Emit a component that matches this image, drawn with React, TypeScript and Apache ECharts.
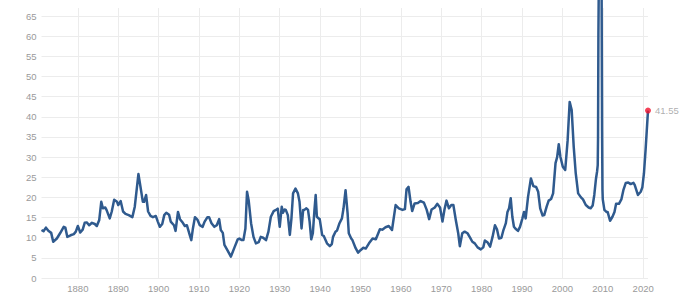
import React, { useEffect, useRef } from "react";
import * as echarts from "echarts";

// S&P 500 price / earnings ratio
const years = [
  1871.0, 1871.5, 1872.1, 1872.7, 1873.4, 1873.9, 1874.8, 1875.6, 1876.5, 1876.9,
  1877.4, 1878.2, 1879.0, 1879.5, 1880.0, 1880.6, 1881.2, 1881.7, 1882.2, 1882.8,
  1883.5, 1884.2, 1884.7, 1885.3, 1885.8, 1886.2, 1886.8, 1887.1, 1887.9, 1888.4,
  1889.0, 1889.7, 1890.0, 1890.6, 1891.2, 1891.8, 1892.6, 1893.5, 1894.1, 1895.0,
  1895.5, 1896.1, 1896.4, 1896.9, 1897.4, 1898.0, 1898.6, 1899.3, 1899.8, 1900.3,
  1900.9, 1901.4, 1901.9, 1902.6, 1903.0, 1903.8, 1904.2, 1904.8, 1905.3, 1906.0,
  1906.5, 1907.0, 1907.7, 1908.1, 1908.5, 1909.0, 1909.6, 1910.2, 1910.9, 1911.4,
  1912.1, 1912.5, 1913.1, 1913.8, 1914.4, 1915.0, 1915.4, 1915.9, 1916.3, 1917.1,
  1917.9, 1918.8, 1919.6, 1920.0, 1920.6, 1921.0, 1921.5, 1921.9, 1922.3, 1922.9,
  1923.5, 1924.1, 1924.8, 1925.3, 1925.9, 1926.6, 1927.2, 1927.8, 1928.5, 1929.2,
  1929.5, 1930.0, 1930.5, 1930.8, 1931.2, 1931.5, 1932.0, 1932.5, 1932.9, 1933.3,
  1933.9, 1934.5, 1934.9, 1935.4, 1935.8, 1936.1, 1936.6, 1937.0, 1937.4, 1937.8,
  1938.2, 1938.6, 1938.9, 1939.2, 1939.6, 1939.9, 1940.5, 1940.9, 1941.7, 1942.4,
  1942.9, 1943.2, 1943.8, 1944.2, 1944.8, 1945.4, 1945.8, 1946.3, 1946.8, 1947.1,
  1947.7, 1948.0, 1948.8, 1949.4, 1950.0, 1950.7, 1951.3, 1952.1, 1953.0, 1953.8,
  1954.2, 1954.8, 1955.4, 1956.2, 1957.0, 1957.8, 1958.7, 1959.5, 1960.4, 1961.0,
  1961.4, 1961.9, 1962.4, 1962.8, 1963.4, 1964.2, 1964.9, 1965.7, 1966.4, 1967.0,
  1967.6, 1968.4, 1969.0, 1969.7, 1970.3, 1970.8, 1971.3, 1971.9, 1972.5, 1973.0,
  1973.6, 1974.2, 1974.6, 1975.2, 1975.8, 1976.5, 1977.1, 1977.7, 1978.3, 1979.0,
  1979.8, 1980.4, 1980.8, 1981.5, 1982.1, 1982.7, 1983.3, 1983.8, 1984.3, 1984.9,
  1985.4, 1986.0, 1986.4, 1986.8, 1987.2, 1987.6, 1988.0, 1988.4, 1989.0, 1989.5,
  1990.1, 1990.5, 1990.9, 1991.5, 1992.2, 1992.8, 1993.5, 1994.0, 1994.5, 1995.1,
  1995.5, 1996.1, 1996.6, 1997.2, 1997.7, 1998.3, 1998.7, 1999.1, 1999.5, 2000.1,
  2000.7, 2001.3, 2001.8, 2002.3, 2002.8, 2003.3, 2003.9, 2004.6, 2005.1, 2005.8,
  2006.5, 2007.0, 2007.5, 2007.9, 2008.3, 2008.6, 2008.75, 2008.83, 2008.92, 2009.0,
  2009.08, 2009.17, 2009.25, 2009.33, 2009.42, 2009.5, 2009.58, 2009.67, 2009.75, 2009.83,
  2009.92, 2010.0, 2010.4, 2010.9, 2011.2, 2011.8, 2012.4, 2012.9, 2013.3, 2014.0,
  2014.6, 2015.1, 2015.7, 2016.3, 2016.9, 2017.6, 2017.9, 2018.7, 2019.4, 2019.8,
  2020.2, 2020.6, 2021.2,
];

const peRatio = [
  11.9, 11.6, 12.5, 11.7, 11.2, 9.0, 9.8, 11.1, 12.7, 12.5,
  10.2, 10.6, 10.9, 11.5, 12.9, 11.3, 12.0, 13.7, 13.8, 13.1,
  13.7, 13.4, 12.9, 14.4, 18.9, 17.3, 17.5, 16.9, 14.8, 16.5,
  19.4, 18.9, 18.1, 19.1, 16.5, 15.9, 15.6, 15.1, 17.7, 25.8,
  22.7, 18.9, 18.9, 20.6, 16.5, 15.4, 15.1, 15.4, 14.0, 12.7,
  13.4, 15.6, 16.2, 15.7, 14.0, 13.1, 11.7, 16.4, 14.6, 13.7,
  12.9, 13.1, 10.7, 9.4, 12.3, 15.1, 14.5, 13.1, 12.7, 14.0,
  15.1, 15.1, 13.6, 12.7, 13.1, 14.6, 11.9, 11.2, 8.2, 6.8,
  5.3, 7.6, 9.6, 9.8, 9.4, 9.4, 12.3, 21.4, 19.3, 13.6,
  10.2, 8.6, 8.9, 10.2, 10.0, 9.4, 11.5, 15.2, 16.6, 17.0,
  17.2, 12.7, 17.7, 16.2, 17.0, 16.9, 15.6, 10.7, 14.8, 21.0,
  22.2, 21.0, 18.9, 12.3, 16.9, 16.9, 17.3, 16.9, 14.0, 9.6,
  11.1, 16.9, 20.6, 15.2, 14.8, 14.6, 10.7, 10.4, 8.6, 7.9,
  8.4, 10.2, 11.5, 11.8, 13.6, 14.8, 17.3, 21.8, 16.1, 11.1,
  9.8, 9.4, 7.4, 6.3, 6.9, 7.5, 7.3, 8.6, 9.8, 9.6,
  10.6, 12.1, 12.0, 12.6, 12.9, 11.9, 18.1, 17.3, 16.9, 17.1,
  22.0, 22.6, 18.9, 16.6, 18.5, 18.6, 19.1, 18.7, 16.9, 14.6,
  17.0, 17.5, 18.4, 17.5, 14.0, 17.0, 19.2, 17.3, 18.1, 18.1,
  14.4, 11.1, 7.9, 11.1, 11.5, 11.1, 10.1, 9.0, 8.6, 7.6,
  7.1, 7.6, 9.3, 8.8, 7.8, 10.2, 13.1, 12.1, 9.8, 10.0,
  11.9, 13.6, 16.4, 17.3, 19.8, 15.2, 12.7, 12.2, 11.7, 12.7,
  14.8, 16.4, 14.8, 20.2, 24.7, 22.8, 22.6, 21.4, 17.3, 15.5,
  15.6, 17.7, 19.2, 19.6, 21.0, 28.5, 30.0, 33.2, 30.1, 27.6,
  26.8, 34.2, 43.7, 41.7, 32.6, 26.0, 21.0, 20.0, 19.5, 18.1,
  17.5, 17.3, 18.0, 20.6, 24.5, 26.5, 28.0, 35.0, 60.7, 70.9,
  86.4, 110.4, 119.8, 123.7, 122.4, 116.3, 101.1, 84.9, 58.9, 36.4,
  21.9, 19.5, 16.9, 16.4, 16.4, 14.2, 15.2, 16.4, 18.4, 18.4,
  19.5, 21.8, 23.6, 23.7, 23.3, 23.6, 23.1, 20.6, 21.4, 22.5,
  26.0, 31.8, 41.55,
];

const yMin = 0;
const yMax = 67;
const yInterval = 5;
const xTickStart = 1870;
const xInterval = 10;

export default function App() {
  const ref = useRef<HTMLDivElement>(null);

  useEffect(() => {
    if (!ref.current) return;
    const chart = echarts.init(ref.current, null, { renderer: "svg" });
    const data = years.map((y, i) => [y, peRatio[i]]);
    const last = data[data.length - 1];
    const xMin = years[0];
    const xMax = years[years.length - 1];

    const W = 690;
    const L = 41.5;
    const R = 42;
    const pxPerYear = (W - L - R) / (xMax - xMin);
    const L2 = L - pxPerYear * (xMin - xTickStart);

    const font = "'Liberation Sans', Arial, Helvetica, sans-serif";
    const labelColor = "#9a9a9a";
    const gridColor = "#ececec";

    chart.setOption({
      animation: false,
      textStyle: { fontFamily: font },
      grid: [
        { left: L, right: R, top: 8, bottom: 19 },
        { left: L2, right: R, top: 8, bottom: 19 },
      ],
      xAxis: [
        { type: "value", gridIndex: 0, min: xMin, max: xMax, show: false },
        {
          type: "value",
          gridIndex: 1,
          min: xTickStart,
          max: xMax,
          interval: xInterval,
          axisLine: { show: false },
          axisTick: { show: false },
          axisLabel: {
            color: labelColor,
            fontSize: 9.5,
            fontFamily: font,
            margin: 5,
            showMinLabel: false,
            showMaxLabel: false,
            formatter: (v: number) => (v % xInterval === 0 ? String(v) : ""),
          },
          splitLine: {
            show: true,
            showMinLine: false,
            showMaxLine: false,
            lineStyle: { color: gridColor, width: 1 },
          },
        },
      ],
      yAxis: [
        {
          type: "value",
          gridIndex: 0,
          min: yMin,
          max: yMax,
          interval: yInterval,
          axisLine: { show: false },
          axisTick: { show: false },
          axisLabel: {
            color: labelColor,
            fontSize: 9.5,
            fontFamily: font,
            margin: 5,
            showMaxLabel: false,
            formatter: (v: number) => (v % yInterval === 0 ? String(v) : ""),
          },
          splitLine: {
            show: true,
            showMaxLine: false,
            lineStyle: { color: gridColor, width: 1 },
          },
        },
        { type: "value", gridIndex: 1, min: 0, max: 1, show: false },
      ],
      series: [
        {
          type: "line",
          xAxisIndex: 0,
          yAxisIndex: 0,
          data,
          symbol: "none",
          showSymbol: false,
          clip: false,
          z: 2,
          lineStyle: { color: "#2f5a8e", width: 2.5, join: "round" },
        },
        {
          type: "scatter",
          xAxisIndex: 0,
          yAxisIndex: 0,
          data: [last],
          symbolSize: 6,
          z: 3,
          itemStyle: { color: "#f0112d" },
          label: {
            show: true,
            position: "right",
            distance: 4,
            color: labelColor,
            fontSize: 9.5,
            fontFamily: font,
            formatter: () => String(last[1]),
          },
        },
      ],
    });
    return () => chart.dispose();
  }, []);

  return (
    <div
      ref={ref}
      style={{ position: "absolute", left: 0, top: 0, width: 690, height: 297 }}
    />
  );
}
